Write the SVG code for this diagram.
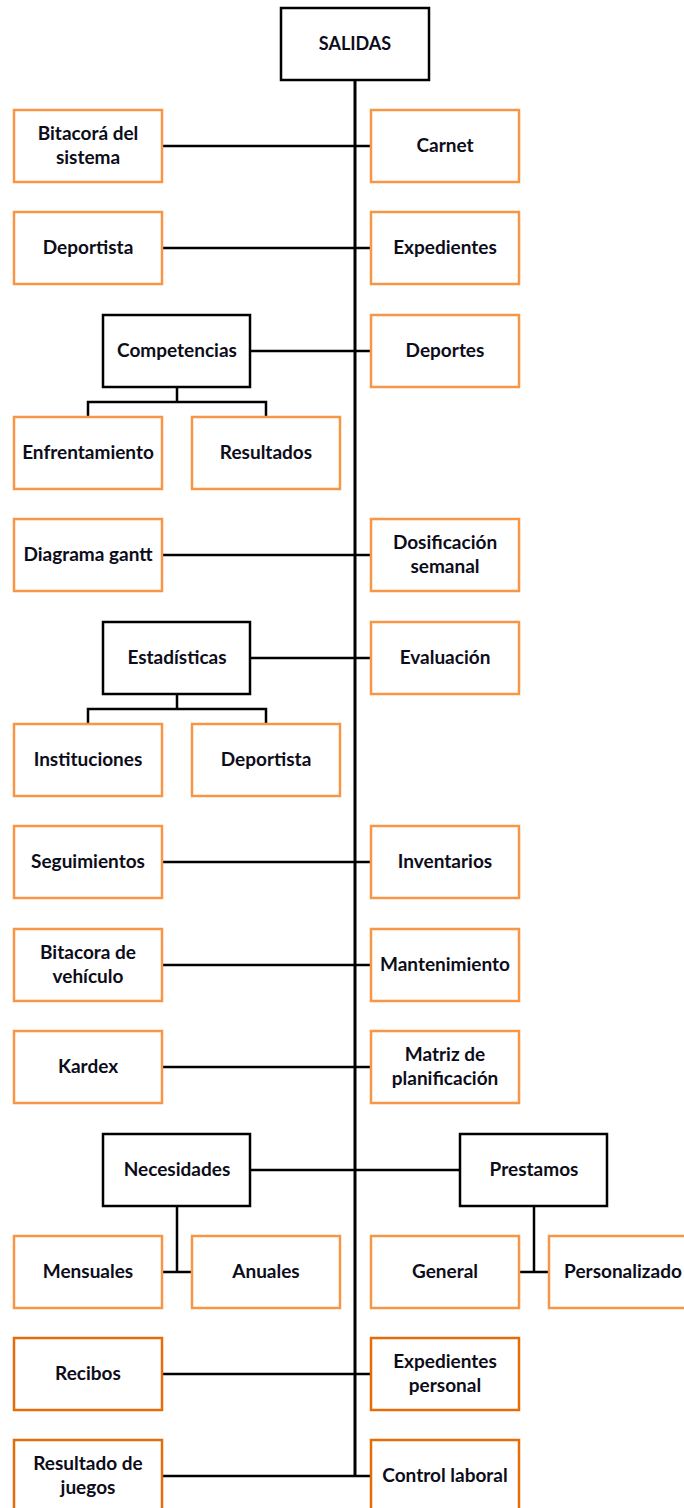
<svg xmlns="http://www.w3.org/2000/svg" width="684" height="1508" viewBox="0 0 684 1508">
<style>
.o{fill:#fff;stroke:#F79646;stroke-width:2.5}
.d{fill:#fff;stroke:#E46C0A;stroke-width:2.5}
.k{fill:#fff;stroke:#000;stroke-width:2.5}
text{font-family:Lato,"Liberation Sans",sans-serif;font-weight:bold;font-size:19px;fill:#0d0d1a;text-anchor:middle}
text.s{font-size:18px}
.c{fill:none;stroke:#000;stroke-width:2.5}
.sp{fill:none;stroke:#000;stroke-width:3}
</style>
<rect width="684" height="1508" fill="#fff"/>
<g id="connectors" class="c">
<path class="sp" d="M355 80V1476"/>
<path d="M162 146H371M162 248H371M250 351H371M162 555H371M250 658H371M162 862H371M162 965H371M162 1067H371M250 1170H460M162 1374H371M162 1476H371"/>
<path d="M177 387V402M88 417V402H266V417"/>
<path d="M177 693V709M88 724V709H266V724"/>
<path d="M177 1206V1272M162 1272H192"/>
<path d="M534 1206V1272M519 1272H549"/>
</g>
<g id="salidas"><rect class="k" x="281" y="8" width="148" height="72"/><text class="s" x="355" y="50">SALIDAS</text></g>
<g id="bitacora-sistema"><rect class="o" x="14" y="110" width="148" height="72"/><text x="88" y="140">Bitacorá del</text><text x="88" y="164">sistema</text></g>
<g id="carnet"><rect class="o" x="371" y="110" width="148" height="72"/><text x="445" y="152">Carnet</text></g>
<g id="deportista"><rect class="o" x="14" y="212" width="148" height="72"/><text x="88" y="254">Deportista</text></g>
<g id="expedientes"><rect class="o" x="371" y="212" width="148" height="72"/><text x="445" y="254">Expedientes</text></g>
<g id="competencias"><rect class="k" x="103" y="315" width="147" height="72"/><text x="177" y="357">Competencias</text></g>
<g id="deportes"><rect class="o" x="371" y="315" width="148" height="72"/><text x="445" y="357">Deportes</text></g>
<g id="enfrentamiento"><rect class="o" x="14" y="417" width="148" height="72"/><text x="88" y="459">Enfrentamiento</text></g>
<g id="resultados"><rect class="o" x="192" y="417" width="148" height="72"/><text x="266" y="459">Resultados</text></g>
<g id="diagrama-gantt"><rect class="o" x="14" y="519" width="148" height="72"/><text x="88" y="561">Diagrama gantt</text></g>
<g id="dosificacion"><rect class="o" x="371" y="519" width="148" height="72"/><text x="445" y="549">Dosificación</text><text x="445" y="573">semanal</text></g>
<g id="estadisticas"><rect class="k" x="103" y="622" width="147" height="72"/><text x="177" y="664">Estadísticas</text></g>
<g id="evaluacion"><rect class="o" x="371" y="622" width="148" height="72"/><text x="445" y="664">Evaluación</text></g>
<g id="instituciones"><rect class="o" x="14" y="724" width="148" height="72"/><text x="88" y="766">Instituciones</text></g>
<g id="deportista2"><rect class="o" x="192" y="724" width="148" height="72"/><text x="266" y="766">Deportista</text></g>
<g id="seguimientos"><rect class="o" x="14" y="826" width="148" height="72"/><text x="88" y="868">Seguimientos</text></g>
<g id="inventarios"><rect class="o" x="371" y="826" width="148" height="72"/><text x="445" y="868">Inventarios</text></g>
<g id="bitacora-vehiculo"><rect class="o" x="14" y="929" width="148" height="72"/><text x="88" y="959">Bitacora de</text><text x="88" y="983">vehículo</text></g>
<g id="mantenimiento"><rect class="o" x="371" y="929" width="148" height="72"/><text x="445" y="971">Mantenimiento</text></g>
<g id="kardex"><rect class="o" x="14" y="1031" width="148" height="72"/><text x="88" y="1073">Kardex</text></g>
<g id="matriz"><rect class="o" x="371" y="1031" width="148" height="72"/><text x="445" y="1061">Matriz de</text><text x="445" y="1085">planificación</text></g>
<g id="necesidades"><rect class="k" x="103" y="1134" width="147" height="72"/><text x="177" y="1176">Necesidades</text></g>
<g id="prestamos"><rect class="k" x="460" y="1134" width="147" height="72"/><text x="534" y="1176">Prestamos</text></g>
<g id="mensuales"><rect class="o" x="14" y="1236" width="148" height="72"/><text x="88" y="1278">Mensuales</text></g>
<g id="anuales"><rect class="o" x="192" y="1236" width="148" height="72"/><text x="266" y="1278">Anuales</text></g>
<g id="general"><rect class="o" x="371" y="1236" width="148" height="72"/><text x="445" y="1278">General</text></g>
<g id="personalizado"><rect class="o" x="549" y="1236" width="148" height="72"/><text x="623" y="1278">Personalizado</text></g>
<g id="recibos"><rect class="d" x="14" y="1338" width="148" height="72"/><text x="88" y="1380">Recibos</text></g>
<g id="expedientes-personal"><rect class="d" x="371" y="1338" width="148" height="72"/><text x="445" y="1368">Expedientes</text><text x="445" y="1392">personal</text></g>
<g id="resultado-juegos"><rect class="d" x="14" y="1440" width="148" height="72"/><text x="88" y="1470">Resultado de</text><text x="88" y="1494">juegos</text></g>
<g id="control-laboral"><rect class="d" x="371" y="1440" width="148" height="72"/><text x="445" y="1482">Control laboral</text></g>
</svg>
